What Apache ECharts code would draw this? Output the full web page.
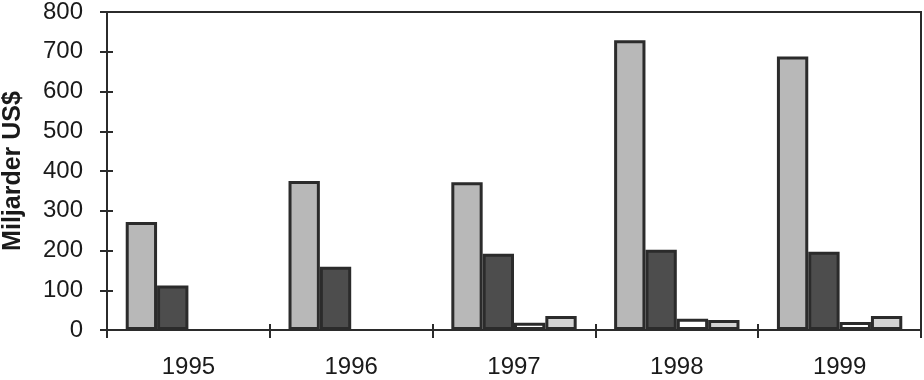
<!DOCTYPE html>
<html>
<head>
<meta charset="utf-8">
<script src="https://cdn.jsdelivr.net/npm/echarts@6/dist/echarts.min.js"></script>
<style>html,body{margin:0;padding:0;background:#fff}#c{width:924px;height:380px}</style>
</head>
<body>
<div id="c"></div>
<script>
const categories = ['1995', '1996', '1997', '1998', '1999'];
const series1 = [272, 375, 372, 729, 688];
const series2 = [112, 159, 192, 202, 197];
const series3 = [null, null, 18, 28, 20];
const series4 = [null, null, 35, 25, 35];
const yTicks = [0, 100, 200, 300, 400, 500, 600, 700, 800];
const yTitle = 'Miljarder US$';

const font = '"Liberation Sans", Arial, sans-serif';
const ink = '#2b2b2b';
const chart = echarts.init(document.getElementById('c'), null, {renderer: 'canvas'});

function barSeries(data, fill) {
  return {
    type: 'bar', data: data, xAxisIndex: 0, yAxisIndex: 0,
    barGap: '0%', barCategoryGap: '23%',
    itemStyle: {color: fill, borderColor: ink, borderWidth: 3},
    emphasis: {disabled: true}, silent: true, animation: false
  };
}

const yMin = yTicks[0], yMax = yTicks[yTicks.length - 1], yStep = yTicks[1] - yTicks[0];

chart.setOption({
  animation: false,
  backgroundColor: '#fff',
  grid: {left: 107, right: 3, top: 12, bottom: 50, show: true, borderColor: ink, borderWidth: 2,
         backgroundColor: 'transparent', containLabel: false, outerBoundsMode: 'none'},
  xAxis: [{
    type: 'category', data: categories, position: 'bottom',
    axisLine: {lineStyle: {color: ink, width: 2}},
    axisTick: {show: true, inside: false, length: 8, lineStyle: {color: ink, width: 2}},
    axisLabel: {color: '#1a1a1a', fontFamily: font, fontSize: 24, margin: 25},
    splitLine: {show: false}
  }, {
    type: 'category', data: categories, position: 'bottom', offset: 0,
    axisLine: {show: false},
    axisTick: {show: true, inside: true, length: 6, lineStyle: {color: ink, width: 2}},
    axisLabel: {show: false}, splitLine: {show: false}
  }],
  yAxis: [{
    type: 'value', min: yMin, max: yMax, interval: yStep, position: 'left',
    name: yTitle, nameLocation: 'middle', nameGap: 81, nameRotate: 90,
    nameTextStyle: {color: '#1a1a1a', fontFamily: font, fontSize: 25, fontWeight: 'bold'},
    axisLine: {show: true, lineStyle: {color: ink, width: 2}},
    axisTick: {show: true, inside: false, length: 7, lineStyle: {color: ink, width: 2}},
    axisLabel: {color: '#1a1a1a', fontFamily: font, fontSize: 24, margin: 24},
    splitLine: {show: false}
  }, {
    type: 'value', min: yMin, max: yMax, interval: yStep, position: 'left', offset: 0,
    axisLine: {show: false},
    axisTick: {show: true, inside: true, length: 6, lineStyle: {color: ink, width: 2}},
    axisLabel: {show: false}, splitLine: {show: false}
  }],
  series: [
    barSeries(series1, '#b8b8b8'),
    barSeries(series2, '#4d4d4d'),
    barSeries(series3, '#ffffff'),
    barSeries(series4, '#d4d4d4')
  ]
});
</script>
</body>
</html>
